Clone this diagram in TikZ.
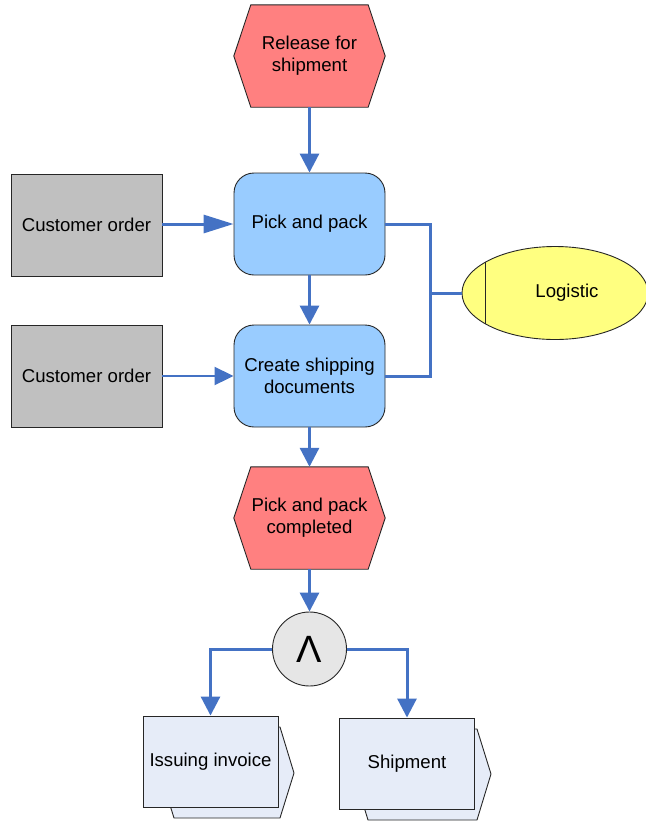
\documentclass[tikz,border=0pt]{standalone}
\usepackage{fontspec}
\setmainfont{Liberation Sans}
\usetikzlibrary{arrows.meta,shapes.geometric}
\pgfdeclarelayer{bg}
\pgfsetlayers{bg,main}
\definecolor{flow}{HTML}{4472C4}
\definecolor{evtfill}{HTML}{FF8080}
\definecolor{funfill}{HTML}{99CCFF}
\definecolor{infill}{HTML}{C0C0C0}
\definecolor{orgfill}{HTML}{FFFF80}
\definecolor{opfill}{HTML}{E6E6E6}
\definecolor{subfill}{HTML}{E6ECF8}

\begin{document}
\begin{tikzpicture}[x=1pt,y=-1pt,
  font=\fontsize{18.6}{22}\selectfont,
  outline/.style={draw=black!85, line width=0.9pt},
  evttext/.style={minimum width=151pt, minimum height=102pt, inner sep=0pt, align=center},
  evtshape/.style={outline, fill=evtfill},
  fun/.style={outline, fill=funfill, rounded corners=20pt, minimum width=151pt,
    minimum height=102pt, inner sep=0pt, align=center},
  inbox/.style={outline, fill=infill, minimum width=151pt, minimum height=102pt, inner sep=0pt},
  sub/.style={outline, fill=subfill, minimum width=135pt, minimum height=91pt, inner sep=0pt},
  flowline/.style={flow, line width=3pt},
  flowarrow/.style={flowline, -{Triangle[length=19pt,width=19pt]}},
]
\useasboundingbox (0,0) rectangle (646,823);

% events (hexagon outlines are drawn on the background layer)
\node[evttext] (rel) at (309.5,56) {Release for\\shipment};
\node[evttext] (done) at (309.5,518) {Pick and pack\\completed};

% functions
\node[fun] (pp) at (309.5,224) {Pick and pack};
\node[fun] (cs) at (309.5,376) {Create shipping\\documents};

% input documents
\node[inbox] (co1) at (86.5,225) {Customer order};
\node[inbox] (co2) at (86.5,376) {Customer order};

% organisational unit
\node[ellipse, outline, fill=orgfill, minimum width=186pt, minimum height=93pt, inner sep=0pt,
  label={[xshift=12pt]center:Logistic}] (log) at (555,293) {};
\draw[outline] (log.center) ++(-70,-30.6) -- ++(0,61.2);

% AND connector
\node[circle, outline, fill=opfill, minimum size=74pt, inner sep=0pt,
  font=\fontsize{38}{40}\selectfont] (and) at (309.5,649) {Λ};

% process paths
\node[sub] (inv) at (210.5,761.5) {Issuing invoice};
\node[sub] (shp) at (407,763.5) {Shipment};

\begin{pgfonlayer}{bg}
  \foreach \e in {rel,done}{
    \draw[evtshape] ([xshift=17pt]\e.north west) -- ([xshift=-17pt]\e.north east)
      -- (\e.east) -- ([xshift=-17pt]\e.south east) -- ([xshift=17pt]\e.south west)
      -- (\e.west) -- cycle;
  }
  \draw[outline, fill=subfill] (174,727) -- (280,727) -- (294,773) -- (280,818)
    -- (174,818) -- (160,773) -- cycle;
  \draw[outline, fill=subfill] (368,729) -- (477,729) -- (491,774) -- (477,820)
    -- (368,820) -- (354,774) -- cycle;
\end{pgfonlayer}

% control flow
\draw[flowarrow] (rel) -- (pp);
\draw[flowline, -{Triangle[length=30pt,width=18pt]}] (co1.east |- pp) -- (pp.west);
\draw[flow, line width=2pt, -{Triangle[length=19pt,width=18pt]}] (co2.east |- cs) -- (cs.west);
\draw[flowarrow] (pp) -- (cs);
\draw[flowarrow] (cs) -- (done);
\draw[flowarrow] (done) -- (and);
\draw[flowarrow] (and.west) -| (inv.north);
\draw[flowarrow] (and.east) -| (shp.north);

% assignment of the organisational unit
\coordinate (j) at (430,293);
\draw[flowline] (pp.east) -| (j) |- (cs.east);
\draw[flowline] (j) -- (log.west);
\end{tikzpicture}
\end{document}
